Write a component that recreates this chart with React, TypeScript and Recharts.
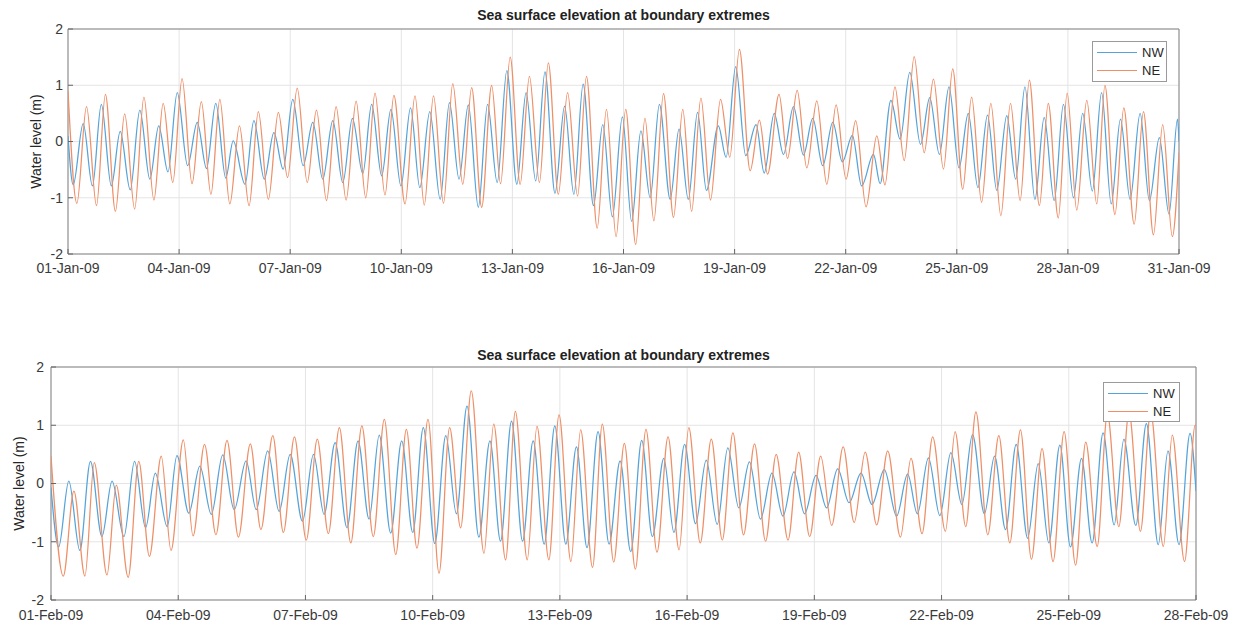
import React from "react";
import { LineChart, Line, XAxis, YAxis, CartesianGrid, ReferenceArea } from "recharts";

// [day since start of month, water level (m)] at each high / low water
const janNW: [number, number][] = [
  [0, 0.1], [0.14, -0.77], [0.41, 0.32], [0.66, -0.79], [0.9, 0.66], [1.17, -0.79], [1.41, 0.18], [1.68, -0.86],
  [1.94, 0.56], [2.21, -0.67], [2.45, 0.28], [2.7, -0.54], [2.95, 0.87], [3.23, -0.43], [3.49, 0.34], [3.74, -0.48],
  [3.99, 0.68], [4.26, -0.65], [4.46, 0.01], [4.78, -0.76], [5.02, 0.37], [5.3, -0.67], [5.56, 0.16], [5.81, -0.49],
  [6.07, 0.75], [6.35, -0.43], [6.61, 0.34], [6.88, -0.67], [7.15, 0.37], [7.42, -0.73], [7.68, 0.41], [7.96, -0.57],
  [8.2, 0.66], [8.47, -0.61], [8.72, 0.57], [8.99, -0.79], [9.25, 0.6], [9.5, -0.82], [9.77, 0.53], [10.05, -1.03],
  [10.3, 0.69], [10.56, -0.67], [10.81, 0.65], [11.08, -1.17], [11.33, 0.66], [11.59, -0.73], [11.85, 1.26], [12.12, -0.76],
  [12.37, 0.87], [12.63, -0.7], [12.88, 1.24], [13.15, -0.92], [13.41, 0.63], [13.66, -0.94], [13.91, 1.02], [14.19, -1.14],
  [14.44, 0.3], [14.7, -1.34], [14.97, 0.44], [15.22, -1.42], [15.47, 0.19], [15.72, -1.0], [15.97, 0.66], [16.26, -1.03],
  [16.5, 0.22], [16.75, -1.03], [17.0, 0.52], [17.24, -0.87], [17.56, 0.28], [17.77, -0.28], [18.03, 1.33], [18.3, -0.25],
  [18.58, 0.3], [18.8, -0.56], [19.07, 0.5], [19.32, -0.23], [19.59, 0.62], [19.86, -0.24], [20.11, 0.41], [20.38, -0.43],
  [20.65, 0.34], [20.91, -0.36], [21.18, 0.11], [21.43, -0.79], [21.75, -0.23], [21.93, -0.75], [22.22, 0.73], [22.47, 0.04],
  [22.73, 1.23], [23.02, -0.05], [23.27, 0.78], [23.53, -0.23], [23.79, 0.97], [24.06, -0.47], [24.31, 0.5], [24.57, -0.82],
  [24.83, 0.47], [25.08, -0.87], [25.35, 0.46], [25.59, -0.67], [25.84, 0.97], [26.11, -1.03], [26.36, 0.43], [26.63, -1.05],
  [26.88, 0.66], [27.15, -1.0], [27.4, 0.5], [27.66, -0.88], [27.91, 0.87], [28.17, -1.11], [28.42, 0.4], [28.68, -1.03],
  [28.95, 0.5], [29.2, -1.05], [29.47, 0.07], [29.73, -1.29], [29.96, 0.4], [30, 0.0],
];

const janNE: [number, number][] = [
  [0, 0.9], [0.24, -1.1], [0.5, 0.62], [0.77, -1.14], [1.01, 0.84], [1.28, -1.24], [1.53, 0.49], [1.8, -1.2],
  [2.05, 0.79], [2.32, -1.04], [2.57, 0.68], [2.83, -0.73], [3.08, 1.12], [3.35, -0.75], [3.6, 0.71], [3.86, -0.94],
  [4.1, 0.75], [4.37, -1.11], [4.63, 0.28], [4.89, -1.14], [5.14, 0.53], [5.41, -1.03], [5.68, 0.52], [5.93, -0.64],
  [6.19, 0.95], [6.46, -0.73], [6.71, 0.56], [6.98, -1.05], [7.24, 0.62], [7.51, -1.04], [7.78, 0.72], [8.04, -1.0],
  [8.29, 0.86], [8.56, -0.95], [8.8, 0.82], [9.1, -1.11], [9.37, 0.81], [9.62, -1.13], [9.87, 0.81], [10.14, -1.1],
  [10.39, 1.03], [10.66, -0.76], [10.9, 0.96], [11.17, -1.17], [11.44, 1.0], [11.68, -0.75], [11.94, 1.5], [12.21, -0.76],
  [12.46, 1.16], [12.73, -0.73], [12.97, 1.4], [13.24, -0.94], [13.49, 0.87], [13.76, -0.97], [14.0, 1.16], [14.29, -1.54],
  [14.54, 0.57], [14.8, -1.69], [15.06, 0.57], [15.33, -1.83], [15.58, 0.41], [15.82, -1.41], [16.08, 0.85], [16.35, -1.35],
  [16.6, 0.57], [16.84, -1.24], [17.09, 0.77], [17.35, -1.04], [17.62, 0.75], [17.87, -0.28], [18.13, 1.64], [18.42, -0.52],
  [18.67, 0.38], [18.89, -0.58], [19.2, 0.84], [19.43, -0.3], [19.69, 0.91], [19.95, -0.47], [20.22, 0.72], [20.49, -0.76],
  [20.74, 0.65], [21.01, -0.67], [21.27, 0.37], [21.55, -1.16], [21.84, 0.1], [22.06, -0.77], [22.33, 0.97], [22.58, -0.34],
  [22.85, 1.51], [23.12, -0.2], [23.37, 1.11], [23.64, -0.49], [23.89, 1.29], [24.16, -0.85], [24.4, 0.79], [24.67, -1.08],
  [24.92, 0.68], [25.19, -1.32], [25.45, 0.68], [25.71, -1.05], [25.96, 1.09], [26.23, -1.14], [26.47, 0.68], [26.74, -1.36],
  [26.98, 0.86], [27.24, -1.22], [27.51, 0.73], [27.78, -1.11], [28.0, 1.0], [28.27, -1.3], [28.51, 0.6], [28.79, -1.47],
  [29.04, 0.53], [29.31, -1.66], [29.56, 0.3], [29.82, -1.69], [30, -0.2],
];

const febNW: [number, number][] = [
  [0, -0.07], [0.18, -1.09], [0.42, 0.04], [0.68, -1.15], [0.93, 0.38], [1.2, -0.91], [1.44, 0.04], [1.72, -0.91],
  [1.97, 0.38], [2.23, -0.76], [2.46, 0.18], [2.74, -0.74], [2.97, 0.48], [3.25, -0.51], [3.51, 0.3], [3.78, -0.53],
  [4.05, 0.49], [4.32, -0.45], [4.6, 0.39], [4.84, -0.45], [5.11, 0.56], [5.38, -0.48], [5.64, 0.5], [5.93, -0.65],
  [6.19, 0.5], [6.44, -0.53], [6.7, 0.7], [6.98, -0.76], [7.24, 0.73], [7.5, -0.61], [7.74, 0.83], [8.01, -0.85],
  [8.27, 0.73], [8.53, -0.84], [8.78, 0.96], [9.05, -1.03], [9.31, 0.82], [9.56, -0.52], [9.81, 1.33], [10.09, -0.92],
  [10.35, 0.73], [10.6, -0.99], [10.86, 1.07], [11.12, -0.99], [11.37, 0.73], [11.63, -1.04], [11.88, 0.99], [12.14, -1.04],
  [12.39, 0.63], [12.64, -1.1], [12.9, 0.89], [13.16, -1.04], [13.42, 0.39], [13.67, -1.17], [13.93, 0.74], [14.18, -0.91],
  [14.45, 0.43], [14.69, -0.84], [14.94, 0.67], [15.2, -0.69], [15.45, 0.4], [15.71, -0.7], [15.96, 0.61], [16.22, -0.42],
  [16.47, 0.37], [16.73, -0.61], [17.0, 0.18], [17.26, -0.56], [17.52, 0.2], [17.77, -0.52], [18.04, 0.14], [18.29, -0.42],
  [18.55, 0.25], [18.82, -0.33], [19.1, 0.18], [19.36, -0.36], [19.65, 0.24], [19.94, -0.56], [20.2, 0.16], [20.43, -0.52],
  [20.69, 0.44], [20.96, -0.55], [21.22, 0.53], [21.48, -0.36], [21.73, 0.84], [22.01, -0.52], [22.25, 0.47], [22.51, -0.79],
  [22.76, 0.67], [23.03, -0.94], [23.28, 0.34], [23.53, -1.02], [23.79, 0.66], [24.04, -1.09], [24.3, 0.43], [24.55, -1.02],
  [24.81, 0.87], [25.07, -0.71], [25.3, 0.76], [25.58, -0.72], [25.83, 1.03], [26.11, -1.05], [26.34, 0.56], [26.6, -1.05],
  [26.86, 0.86], [27, -0.13],
];

const febNE: [number, number][] = [
  [0, 0.47], [0.29, -1.59], [0.54, -0.13], [0.8, -1.59], [1.02, 0.36], [1.32, -1.57], [1.54, -0.03], [1.82, -1.61],
  [2.07, 0.38], [2.32, -1.25], [2.6, 0.47], [2.83, -1.15], [3.12, 0.75], [3.35, -0.9], [3.62, 0.67], [3.89, -0.88],
  [4.15, 0.74], [4.42, -0.92], [4.7, 0.68], [4.95, -0.79], [5.23, 0.82], [5.48, -0.84], [5.74, 0.8], [6.02, -0.97],
  [6.28, 0.76], [6.54, -0.86], [6.8, 0.96], [7.07, -1.02], [7.33, 0.99], [7.6, -0.91], [7.86, 1.1], [8.13, -1.22],
  [8.38, 0.93], [8.63, -1.11], [8.89, 1.1], [9.15, -1.54], [9.4, 0.96], [9.66, -0.76], [9.91, 1.59], [10.21, -1.2],
  [10.44, 1.02], [10.72, -1.31], [10.95, 1.24], [11.23, -1.31], [11.46, 0.98], [11.74, -1.31], [11.98, 1.18], [12.26, -1.34],
  [12.49, 0.92], [12.77, -1.44], [13.0, 1.02], [13.27, -1.35], [13.52, 0.69], [13.78, -1.47], [14.03, 0.93], [14.29, -1.18],
  [14.55, 0.8], [14.81, -1.14], [15.04, 0.96], [15.31, -1.02], [15.57, 0.76], [15.83, -0.97], [16.08, 0.87], [16.33, -0.88],
  [16.59, 0.68], [16.85, -0.99], [17.1, 0.5], [17.38, -0.97], [17.63, 0.54], [17.89, -0.91], [18.15, 0.47], [18.41, -0.72],
  [18.68, 0.63], [18.94, -0.67], [19.2, 0.54], [19.47, -0.71], [19.73, 0.56], [20.03, -0.92], [20.28, 0.43], [20.54, -0.86],
  [20.79, 0.8], [21.09, -0.82], [21.32, 0.89], [21.57, -0.74], [21.81, 1.23], [22.09, -0.88], [22.35, 0.82], [22.61, -1.02],
  [22.86, 0.92], [23.12, -1.3], [23.37, 0.6], [23.63, -1.34], [23.89, 0.89], [24.16, -1.4], [24.4, 0.71], [24.67, -1.08],
  [24.91, 1.19], [25.18, -0.74], [25.42, 1.22], [25.69, -0.82], [25.93, 1.22], [26.23, -1.08], [26.44, 0.83], [26.73, -1.34],
  [26.98, 1.0], [27, 1.0],
];

const janTicks = [0, 3, 6, 9, 12, 15, 18, 21, 24, 27, 30];
const janTickLabels = ["01-Jan-09", "04-Jan-09", "07-Jan-09", "10-Jan-09", "13-Jan-09", "16-Jan-09", "19-Jan-09", "22-Jan-09", "25-Jan-09", "28-Jan-09", "31-Jan-09"];
const febTicks = [0, 3, 6, 9, 12, 15, 18, 21, 24, 27];
const febTickLabels = ["01-Feb-09", "04-Feb-09", "07-Feb-09", "10-Feb-09", "13-Feb-09", "16-Feb-09", "19-Feb-09", "22-Feb-09", "25-Feb-09", "28-Feb-09"];
const levelTicks = [-2, -1, 0, 1, 2];

const NW_COLOR = "#55a3d9";
const NE_COLOR = "#ee8f67";
const FONT = "'Liberation Sans', Arial, sans-serif";

const toRows = (pts: [number, number][]) => pts.map(([day, level]) => ({ day, level }));

function Legend({ left, top, width, height }: { left: number; top: number; width: number; height: number }) {
  const row = (color: string, name: string) => (
    <div style={{ display: "flex", alignItems: "center", height: 18 }}>
      <div style={{ width: 40, height: 0, borderTop: `1.3px solid ${color}`, marginLeft: 4, marginRight: 5 }} />
      <span>{name}</span>
    </div>
  );
  return (
    <div
      style={{
        position: "absolute", left, top, width, height, boxSizing: "border-box", zIndex: 2,
        border: "1px solid #9a9a9a", background: "#fff", fontFamily: FONT, fontSize: 13, color: "#262626",
        display: "flex", flexDirection: "column", justifyContent: "center",
      }}
    >
      {row(NW_COLOR, "NW")}
      {row(NE_COLOR, "NE")}
    </div>
  );
}

type PanelProps = {
  top: number; height: number; nw: [number, number][]; ne: [number, number][];
  ticks: number[]; tickLabels: string[]; margin: { top: number; right: number; bottom: number; left: number };
  xAxisHeight: number; xTickMargin: number; yTickMargin: number; labelOffset: number; titleTop: number;
  legend: { left: number; top: number; width: number; height: number };
};

function Panel(p: PanelProps) {
  const last = p.ticks[p.ticks.length - 1];
  const tickStyle = { fontSize: 14, fill: "#3a3a3a", fontFamily: FONT };
  return (
    <div style={{ position: "absolute", left: 0, top: p.top, width: 1240, height: p.height }}>
      <div
        style={{
          position: "absolute", top: p.titleTop, left: p.margin.left + 40, right: p.margin.right, zIndex: 2,
          textAlign: "center", fontFamily: FONT, fontSize: 14, fontWeight: "bold", color: "#222", lineHeight: "16px",
        }}
      >
        Sea surface elevation at boundary extremes
      </div>
      <LineChart width={1240} height={p.height} margin={p.margin}>
        <CartesianGrid stroke="#e4e4e4" />
        <XAxis
          type="number" dataKey="day" domain={[0, last]} ticks={p.ticks} interval={0}
          tickFormatter={(v: number) => p.tickLabels[p.ticks.indexOf(v)] ?? ""}
          axisLine={false} tickSize={-5} tickMargin={p.xTickMargin} height={p.xAxisHeight}
          tickLine={{ stroke: "#666" }} tick={tickStyle} allowDataOverflow
        />
        <YAxis
          type="number" domain={[-2, 2]} ticks={levelTicks} interval={0} width={40}
          axisLine={false} tickSize={-5} tickMargin={p.yTickMargin}
          tickLine={{ stroke: "#666" }} tick={tickStyle} allowDataOverflow
          label={{
            value: "Water level (m)", angle: -90, position: "insideLeft", offset: p.labelOffset,
            style: { textAnchor: "middle", fontSize: 14, fill: "#262626", fontFamily: FONT },
          }}
        />
        <ReferenceArea x1={0} x2={last} y1={-2} y2={2} fill="none" stroke="#858585" strokeWidth={1} />
        <Line data={toRows(p.nw)} dataKey="level" type="monotone" stroke={NW_COLOR} strokeWidth={1.25} dot={false} isAnimationActive={false} />
        <Line data={toRows(p.ne)} dataKey="level" type="monotone" stroke={NE_COLOR} strokeWidth={1.25} dot={false} isAnimationActive={false} />
      </LineChart>
      <Legend {...p.legend} />
    </div>
  );
}

export default function App() {
  return (
    <div style={{ position: "absolute", left: 0, top: 0, width: 1240, height: 625, background: "#fff", overflow: "hidden" }}>
      <Panel
        top={0} height={290} nw={janNW} ne={janNE} ticks={janTicks} tickLabels={janTickLabels}
        margin={{ top: 29, right: 61, bottom: 6, left: 28 }} xAxisHeight={30}
        xTickMargin={14} yTickMargin={10} labelOffset={8} titleTop={7}
        legend={{ left: 1092, top: 41, width: 75, height: 41 }}
      />
      <Panel
        top={330} height={295} nw={febNW} ne={febNE} ticks={febTicks} tickLabels={febTickLabels}
        margin={{ top: 37, right: 44, bottom: 5, left: 11 }} xAxisHeight={20}
        xTickMargin={15} yTickMargin={12} labelOffset={8} titleTop={17}
        legend={{ left: 1103, top: 52, width: 77, height: 40 }}
      />
    </div>
  );
}
